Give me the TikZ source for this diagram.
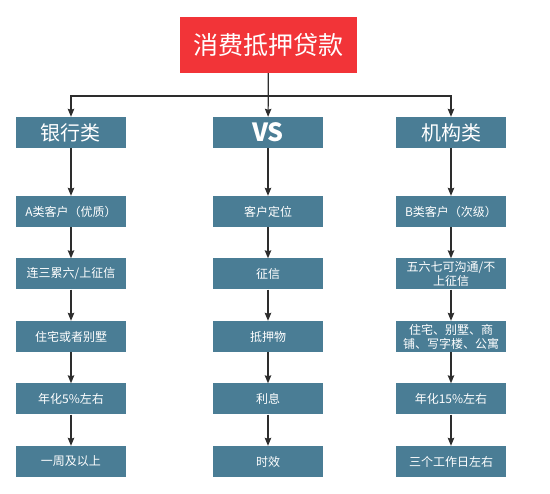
\documentclass[tikz,border=0pt]{standalone}
\usepackage{fontspec}
\newfontfamily\cjk{Noto Sans CJK SC}
\usepackage{tikz}
\usetikzlibrary{arrows.meta, positioning}
\definecolor{titleColor}{RGB}{242,52,56}
\definecolor{boxColor}{RGB}{74,125,149}
\definecolor{lineColor}{RGB}{45,45,45}
\tikzstyle{title} = [rectangle, fill=titleColor, text=white, minimum width=177pt, minimum height=56pt, font=\cjk\fontsize{25}{28}\selectfont]
\tikzstyle{head} = [rectangle, fill=boxColor, text=white, minimum width=110pt, minimum height=31pt, inner sep=0pt, font=\cjk\fontsize{20}{22}\selectfont]
\tikzstyle{item} = [rectangle, fill=boxColor, text=white, minimum width=110pt, minimum height=31pt, inner sep=1pt, align=center, font=\cjk\fontsize{12}{14}\selectfont]
\tikzstyle{arrow} = [line width=1.2pt, ->, >={Stealth[length=8pt, width=6.5pt, inset=1pt]}, lineColor]

\begin{document}
\begin{tikzpicture}[x=1pt, y=-1pt]
            \useasboundingbox (0,0) rectangle (550,494);

            % Title
            \node[title] (loan) at (268.5,45) {消费抵押贷款};

            % Column heads
            \node[head] (bank) at (71,132.5) {银行类};
            \node[head, font=\cjk\fontsize{25}{26}\selectfont\bfseries] (vs) at (268,132.5) {VS};
            \node[head] (org) at (451,132.5) {机构类};

            % Bus from title
            \coordinate (bus) at (268,96);
            \draw[arrow] (loan) -- (vs);
            \draw[arrow] (bus) -| (bank);
            \draw[arrow] (bus) -| (org);

            % Columns
            \foreach \txt [count=\i] in {A类客户（优质）, 连三累六/上征信, 住宅或者别墅, 年化5\%左右, 一周及以上}
                \node[item] (bank\i) at (71, 149+62.5*\i) {\txt};
            \foreach \txt [count=\i] in {客户定位, 征信, 抵押物, 利息, 时效}
                \node[item] (vs\i) at (268, 149+62.5*\i) {\txt};
            \foreach \txt [count=\i] in {B类客户（次级）, {五六七可沟通/不\\上征信}, {住宅、别墅、商\\铺、写字楼、公寓}, 年化15\%左右, 三个工作日左右}
                \node[item] (org\i) at (451, 149+62.5*\i) {\txt};

            % Arrows down each column
            \foreach \c in {bank, vs, org} {
                \draw[arrow] (\c) -- (\c1);
                \foreach \i/\j in {1/2, 2/3, 3/4, 4/5}
                    \draw[arrow] (\c\i) -- (\c\j);
            }

        \end{tikzpicture}
\end{document}
